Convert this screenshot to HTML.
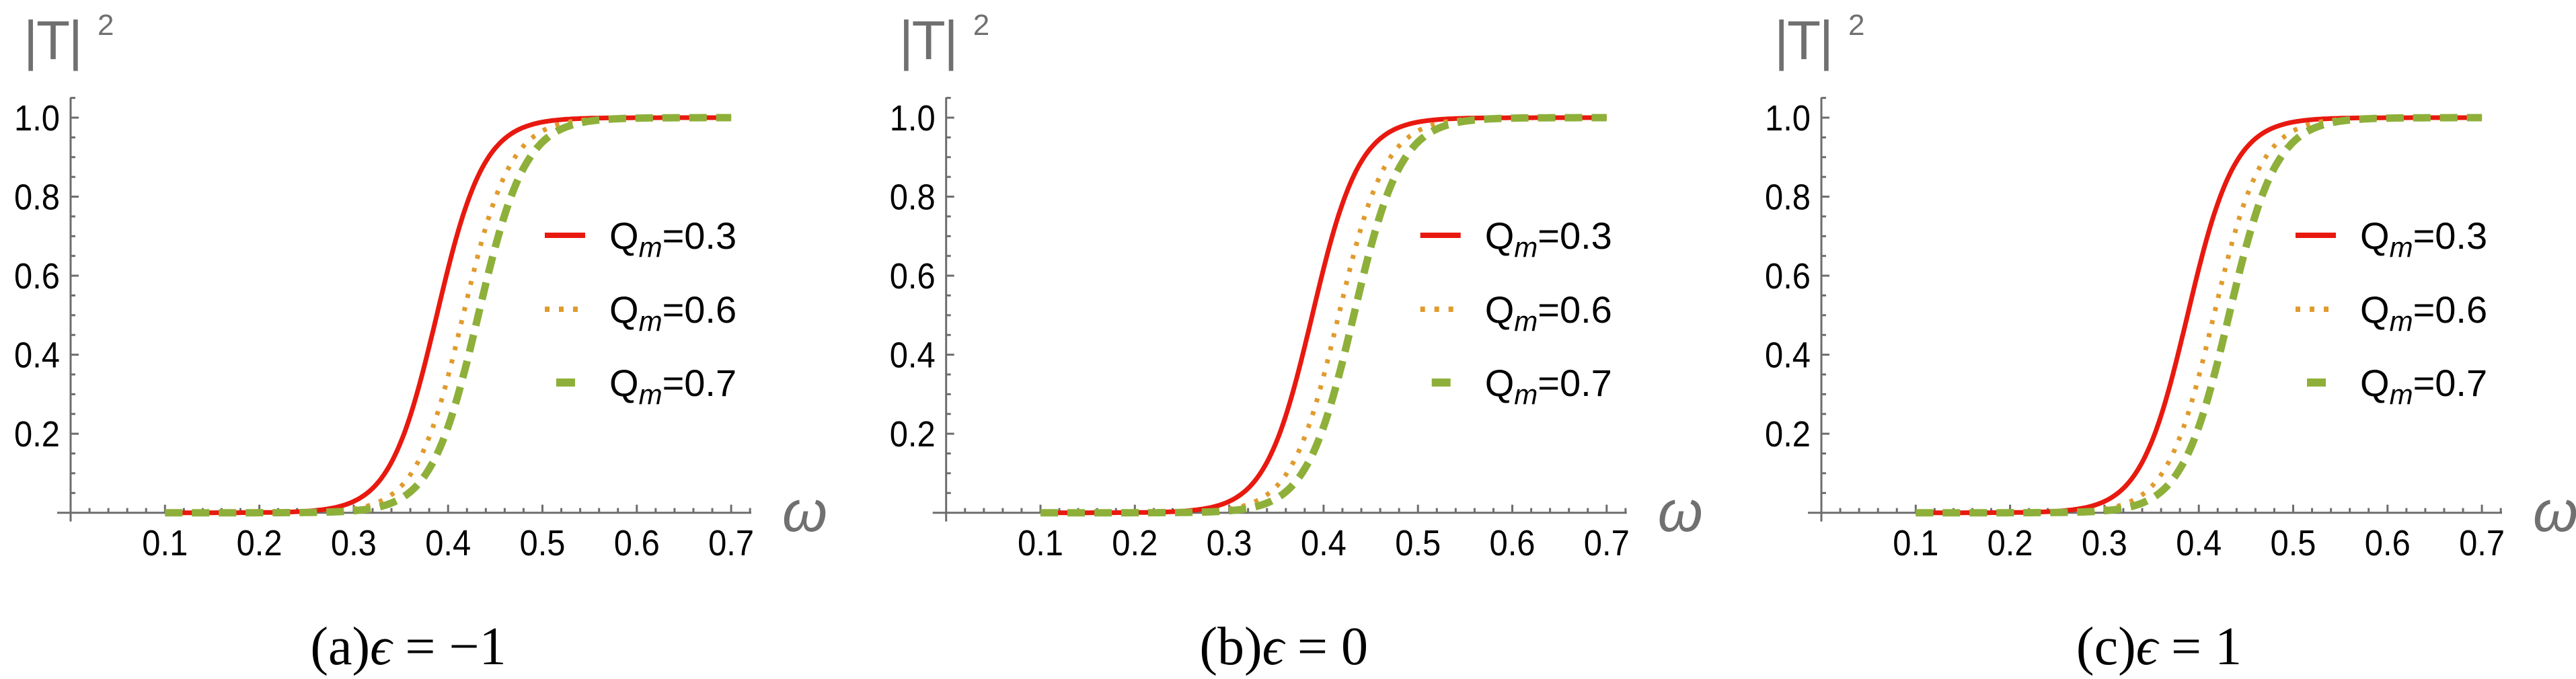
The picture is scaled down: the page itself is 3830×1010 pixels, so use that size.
<!DOCTYPE html>
<html><head><meta charset="utf-8"><style>
html,body{margin:0;padding:0;background:#fff;}
svg{display:block;}
</style></head><body>
<svg id="s" width="3830" height="1010" viewBox="0 0 3830 1010" xmlns="http://www.w3.org/2000/svg"></svg>
<script>
const svg=document.getElementById('s');
let out='';
const offs=[105,1406.7,2708];
const caps=['(a)','(b)','(c)'];
const eps=['−1','0','1'];
const y0=762.7, sx=1403, sy=587.7;
function X(o,w){return o+w*sx;}
function Y(v){return y0-v*sy;}
function curve(o,c,k){let d='';for(let i=0;i<=300;i++){const w=0.1+0.6*i/300;const v=1/(1+Math.exp(-(w-c)*k));d+=(i?'L':'M')+X(o,w).toFixed(1)+' '+Y(v).toFixed(1);}return d;}
offs.forEach((o,idx)=>{
  const ax='#6d6d6d';
  out+=`<line x1="${o-20}" y1="${y0}" x2="${o+1012}" y2="${y0}" stroke="${ax}" stroke-width="3"/>`;
  out+=`<line x1="${o}" y1="145" x2="${o}" y2="${y0+13}" stroke="${ax}" stroke-width="3"/>`;
  for(let i=1;i<=36;i++){const x=o+i*sx*0.02;const maj=i%5==0;out+=`<line x1="${x}" y1="${y0}" x2="${x}" y2="${y0-(maj?12:7)}" stroke="${ax}" stroke-width="3"/>`;}
  for(let i=1;i<=21;i++){const y=y0-i*sy*0.05;const maj=i%4==0;out+=`<line x1="${o}" y1="${y}" x2="${o+(maj?12:7)}" y2="${y}" stroke="${ax}" stroke-width="3"/>`;}
  for(let i=1;i<=7;i++){out+=`<text x="${o+i*sx*0.1}" y="826" font-family="Liberation Sans, sans-serif" font-size="54" text-anchor="middle" fill="#000" textLength="68" lengthAdjust="spacingAndGlyphs">0.${i}</text>`;}
  for(let i=1;i<=5;i++){out+=`<text x="${o-84}" y="${Y(i*0.2)+19}" font-family="Liberation Sans, sans-serif" font-size="54" fill="#000" textLength="68" lengthAdjust="spacingAndGlyphs">${(i*0.2).toFixed(1)}</text>`;}
  out+=`<text x="${o-70}" y="88" font-family="Liberation Sans, sans-serif" font-size="82" fill="#707070" textLength="88" lengthAdjust="spacing">|T|</text>`;
  out+=`<text x="${o+40}" y="52" font-family="Liberation Sans, sans-serif" font-size="44" fill="#707070">2</text>`;
  out+=`<text x="${o+1058}" y="790" font-family="Liberation Sans, sans-serif" font-style="italic" font-size="86" fill="#707070">ω</text>`;
  out+=`<path d="${curve(o,0.388,40)}" fill="none" stroke="#e8190f" stroke-width="7"/>`;
  out+=`<path d="${curve(o,0.416,40)}" fill="none" stroke="#e09b2d" stroke-width="7" stroke-dasharray="6 14"/>`;
  out+=`<path d="${curve(o,0.432,40)}" fill="none" stroke="#8eb03a" stroke-width="11" stroke-dasharray="26 14"/>`;
  const L=[[350,'#e8190f',8,'none','0.3'],[460,'#e09b2d',8,'7 14','0.6'],[569,'#8eb03a',12,'28 60','0.7']];
  L.forEach(l=>{
    const x1=l[4]=='0.7'?o+722:o+705;
    out+=`<line x1="${x1}" y1="${l[0]}" x2="${o+765}" y2="${l[0]}" stroke="${l[1]}" stroke-width="${l[2]}" ${l[3]!='none'?`stroke-dasharray="${l[3]}"`:''}/>`;
    out+=`<text x="${o+801}" y="${l[0]+20}" font-family="Liberation Sans, sans-serif" font-size="56" fill="#000">Q<tspan font-style="italic" font-size="42" dy="12">m</tspan><tspan dy="-12">=${l[4]}</tspan></text>`;
  });
  out+=`<text x="${o+502}" y="988" font-family="Liberation Serif, DejaVu Serif, serif" font-size="80" text-anchor="middle" fill="#000">${caps[idx]}<tspan font-style="italic">ϵ</tspan> = ${eps[idx]}</text>`;
});
svg.innerHTML=out;
</script>
</body></html>
